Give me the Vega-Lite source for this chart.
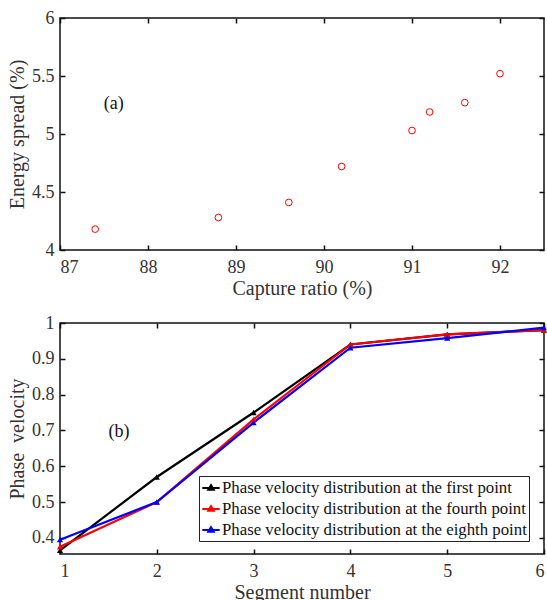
{
  "$schema": "https://vega.github.io/schema/vega-lite/v6.json",
  "background": "white",
  "padding": {"left": 6, "top": 8, "right": 0, "bottom": 0},
  "spacing": 14,
  "datasets": {
    "capture": [
      {"capture": 87.4, "spread": 4.18},
      {"capture": 88.8, "spread": 4.28},
      {"capture": 89.6, "spread": 4.41},
      {"capture": 90.2, "spread": 4.72},
      {"capture": 91.0, "spread": 5.03},
      {"capture": 91.2, "spread": 5.19},
      {"capture": 91.6, "spread": 5.27},
      {"capture": 92.0, "spread": 5.52}
    ],
    "phase": [
      {"segment": 1, "velocity": 0.365, "series": "Phase velocity distribution at the first point"},
      {"segment": 2, "velocity": 0.57, "series": "Phase velocity distribution at the first point"},
      {"segment": 3, "velocity": 0.75, "series": "Phase velocity distribution at the first point"},
      {"segment": 4, "velocity": 0.94, "series": "Phase velocity distribution at the first point"},
      {"segment": 5, "velocity": 0.968, "series": "Phase velocity distribution at the first point"},
      {"segment": 6, "velocity": 0.98, "series": "Phase velocity distribution at the first point"},
      {"segment": 1, "velocity": 0.375, "series": "Phase velocity distribution at the fourth point"},
      {"segment": 2, "velocity": 0.50, "series": "Phase velocity distribution at the fourth point"},
      {"segment": 3, "velocity": 0.731, "series": "Phase velocity distribution at the fourth point"},
      {"segment": 4, "velocity": 0.94, "series": "Phase velocity distribution at the fourth point"},
      {"segment": 5, "velocity": 0.968, "series": "Phase velocity distribution at the fourth point"},
      {"segment": 6, "velocity": 0.98, "series": "Phase velocity distribution at the fourth point"},
      {"segment": 1, "velocity": 0.395, "series": "Phase velocity distribution at the eighth point"},
      {"segment": 2, "velocity": 0.50, "series": "Phase velocity distribution at the eighth point"},
      {"segment": 3, "velocity": 0.722, "series": "Phase velocity distribution at the eighth point"},
      {"segment": 4, "velocity": 0.931, "series": "Phase velocity distribution at the eighth point"},
      {"segment": 5, "velocity": 0.958, "series": "Phase velocity distribution at the eighth point"},
      {"segment": 6, "velocity": 0.987, "series": "Phase velocity distribution at the eighth point"}
    ],
    "tagA": [{"label": "(a)", "x": 87.61, "y": 5.26}],
    "tagB": [{"label": "(b)", "x": 1.61, "y": 0.695}]
  },
  "vconcat": [
    {
      "width": 484,
      "height": 232,
      "layer": [
        {
          "data": {"name": "capture"},
          "mark": {"type": "point", "shape": "circle", "color": "#ff0000", "size": 45, "strokeWidth": 1, "opacity": 1},
          "encoding": {
            "x": {"field": "capture", "type": "quantitative",
                  "scale": {"domain": [87, 92.5], "nice": false, "zero": false},
                  "axis": {"title": "Capture ratio (%)", "values": [87, 88, 89, 90, 91, 92], "format": "~g"}},
            "y": {"field": "spread", "type": "quantitative",
                  "scale": {"domain": [4, 6], "nice": false, "zero": false},
                  "axis": {"title": "Energy spread (%)", "values": [4, 4.5, 5, 5.5, 6], "format": "~g"}}
          }
        },
        {
          "data": {"name": "tagA"},
          "mark": {"type": "text", "fontSize": 18, "color": "#111"},
          "encoding": {
            "text": {"field": "label"},
            "x": {"field": "x", "type": "quantitative",
                  "scale": {"domain": [87, 92.5], "nice": false, "zero": false},
                  "axis": {"orient": "top", "labels": false, "title": null, "values": [87, 88, 89, 90, 91, 92]}},
            "y": {"field": "y", "type": "quantitative",
                  "scale": {"domain": [4, 6], "nice": false, "zero": false},
                  "axis": {"orient": "right", "labels": false, "title": null, "values": [4, 4.5, 5, 5.5, 6]}}
          }
        }
      ],
      "resolve": {"axis": {"x": "independent", "y": "independent"}}
    },
    {
      "width": 484,
      "height": 231,
      "layer": [
        {
          "data": {"name": "phase"},
          "mark": {"type": "line", "strokeWidth": 2.2, "point": {"shape": "triangle-up", "size": 38, "filled": true}},
          "encoding": {
            "x": {"field": "segment", "type": "quantitative",
                  "scale": {"domain": [1, 6], "nice": false, "zero": false},
                  "axis": {"title": "Segment number", "values": [1, 2, 3, 4, 5, 6], "format": "~g"}},
            "y": {"field": "velocity", "type": "quantitative",
                  "scale": {"domain": [0.355, 1], "nice": false, "zero": false},
                  "axis": {"title": "Phase\u00a0\u00a0velocity", "values": [0.4, 0.5, 0.6, 0.7, 0.8, 0.9, 1], "format": "~g"}},
            "color": {"field": "series", "type": "nominal",
                      "scale": {"domain": ["Phase velocity distribution at the first point", "Phase velocity distribution at the fourth point", "Phase velocity distribution at the eighth point"],
                                "range": ["#000000", "#ff0000", "#0000ff"]},
                      "legend": {
                        "title": null,
                        "orient": "none",
                        "legendX": 139,
                        "legendY": 458,
                        "direction": "vertical",
                        "strokeColor": "#222",
                        "fillColor": "white",
                        "padding": 2,
                        "rowPadding": 2,
                        "labelFontSize": 16.8,
                        "labelFont": "Liberation Serif",
                        "labelColor": "#111",
                        "labelOffset": 1,
                        "labelLimit": 400,
                        "symbolType": "M-1,0H1M-0.32,0.2L0,-0.32L0.32,0.2Z",
                        "symbolSize": 300,
                        "symbolStrokeWidth": 2,
                        "encode": {"symbols": {"update": {"fill": {"scale": "color", "field": "value"}}}}
                      },
                      "sort": null}
          }
        },
        {
          "data": {"name": "tagB"},
          "mark": {"type": "text", "fontSize": 18, "color": "#111"},
          "encoding": {
            "text": {"field": "label"},
            "x": {"field": "x", "type": "quantitative",
                  "scale": {"domain": [1, 6], "nice": false, "zero": false},
                  "axis": {"orient": "top", "labels": false, "title": null, "values": [1, 2, 3, 4, 5, 6]}},
            "y": {"field": "y", "type": "quantitative",
                  "scale": {"domain": [0.355, 1], "nice": false, "zero": false},
                  "axis": {"orient": "right", "labels": false, "title": null, "values": [0.4, 0.5, 0.6, 0.7, 0.8, 0.9, 1]}}
          }
        }
      ],
      "resolve": {"axis": {"x": "independent", "y": "independent"}}
    }
  ],
  "config": {
    "font": "Liberation Serif",
    "view": {"stroke": "#111", "strokeWidth": 1.5},
    "axis": {
      "grid": false,
      "domain": false,
      "tickColor": "#111",
      "tickWidth": 1.5,
      "tickSize": -5,
      "labelFont": "Liberation Serif",
      "labelFontSize": 18,
      "labelColor": "#333",
      "titleFont": "Liberation Serif",
      "titleFontSize": 20,
      "titleFontWeight": "normal",
      "titleColor": "#333"
    },
    "axisX": {"labelPadding": 13, "titlePadding": 2},
    "axisY": {"labelPadding": 11, "titlePadding": 4}
  }
}
